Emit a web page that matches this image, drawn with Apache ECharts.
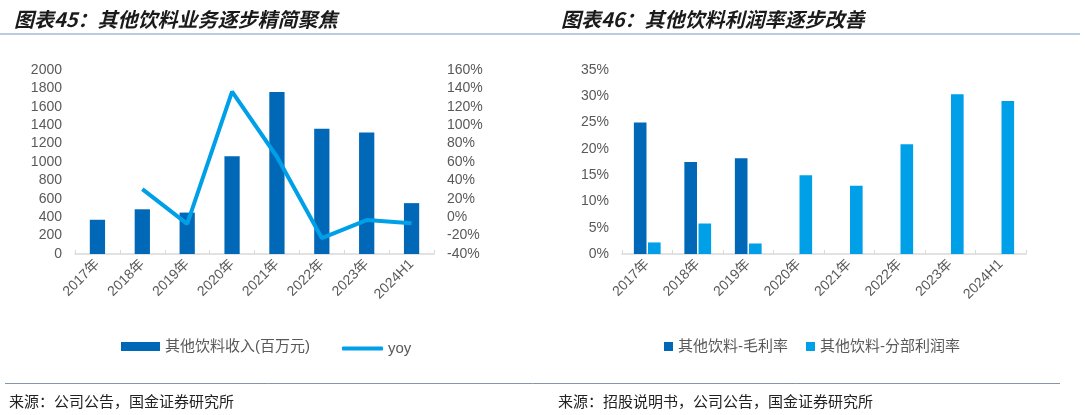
<!DOCTYPE html>
<html>
<head>
<meta charset="utf-8">
<script src="https://cdn.jsdelivr.net/npm/echarts@6/dist/echarts.min.js"></script>
<style>
html,body{margin:0;padding:0;background:#fff;}
#c{width:1085px;height:415px;}
</style>
</head>
<body>
<div id="c"></div>
<script>
var categories = ['2017年','2018年','2019年','2020年','2021年','2022年','2023年','2024H1'];
var revenue = [372, 486, 450, 1062, 1760, 1362, 1320, 553];
var yoy = [null, 30.6, -7.2, 136.5, 65.7, -22.7, -3.1, -6.5];
var grossMargin = [25.0, 17.5, 18.2, null, null, null, null, null];
var segmentMargin = [2.2, 5.8, 2.0, 15.0, 13.0, 20.9, 30.4, 29.1];
var leftTicksL = [0, 2000, 200];
var leftTicksR = [-40, 160, 20];
var rightTicks = [0, 35, 5];

var FONT = '"Liberation Sans", Arial, "Noto Sans CJK SC", sans-serif';
var CJK = '"Noto Sans CJK SC", sans-serif';
var DARK = '#0068b7';
var LIGHT = '#00a0e9';
var LBL = '#595959';

var chart = echarts.init(document.getElementById('c'));

var xAxisCommon = {
  type: 'category',
  data: categories,
  axisLine: {lineStyle: {color: '#d9d9d9', width: 1.5}},
  axisTick: {show: true, inside: true, length: 4, alignWithLabel: false, lineStyle: {color: '#d9d9d9'}},
  axisLabel: {rotate: 45, color: LBL, fontSize: 14, fontFamily: FONT, margin: 8, interval: 0},
  splitLine: {show: false}
};
function yAxisCommon(t, fmt, pos, gi) {
  return {
    type: 'value', gridIndex: gi, position: pos,
    min: t[0], max: t[1], interval: t[2],
    axisLine: {show: false}, axisTick: {show: false},
    splitLine: {show: false},
    axisLabel: {color: LBL, fontSize: 14, fontFamily: FONT, margin: 13, formatter: fmt}
  };
}

var option = {
  backgroundColor: '#fff',
  animation: false,
  title: [
    {text: '图表45：其他饮料业务逐步精简聚焦', left: 9, top: 4,
     textStyle: {fontFamily: CJK, fontSize: 20, fontWeight: 'bold', fontStyle: 'italic', color: '#1a1a1a'}},
    {text: '图表46：其他饮料利润率逐步改善', left: 556, top: 4,
     textStyle: {fontFamily: CJK, fontSize: 20, fontWeight: 'bold', fontStyle: 'italic', color: '#1a1a1a'}}
  ],
  graphic: [
    {type: 'line', shape: {x1: 0, y1: 34, x2: 1080, y2: 34}, style: {stroke: '#b9cde0', lineWidth: 2}},
    {type: 'line', shape: {x1: 5, y1: 383.5, x2: 1060, y2: 383.5}, style: {stroke: '#8496a8', lineWidth: 1}},
    {type: 'text', left: 9, top: 394, style: {text: '来源：公司公告，国金证券研究所', font: '15px ' + CJK, fill: '#222'}},
    {type: 'text', left: 558, top: 394, style: {text: '来源：招股说明书，公司公告，国金证券研究所', font: '15px ' + CJK, fill: '#222'}}
  ],
  legend: [
    {left: 116, top: 334, itemWidth: 39, itemHeight: 9,
     textStyle: {color: LBL, fontSize: 15, fontFamily: FONT},
     data: [{name: '其他饮料收入(百万元)', icon: 'rect'}]},
    {left: 337, top: 336, itemWidth: 41, itemHeight: 4,
     textStyle: {color: LBL, fontSize: 15, fontFamily: FONT},
     data: [{name: 'yoy', icon: 'roundRect'}]},
    {left: 659, top: 334, itemGap: 18, itemWidth: 9, itemHeight: 9,
     textStyle: {color: LBL, fontSize: 15, fontFamily: FONT},
     data: [{name: '其他饮料-毛利率', icon: 'rect'}, {name: '其他饮料-分部利润率', icon: 'rect'}]}
  ],
  grid: [
    {left: 75, top: 70, width: 359, height: 184},
    {left: 622, top: 70, width: 404, height: 184}
  ],
  xAxis: [
    Object.assign({gridIndex: 0}, xAxisCommon),
    Object.assign({gridIndex: 1}, xAxisCommon)
  ],
  yAxis: [
    yAxisCommon(leftTicksL, function (v) { return String(v); }, 'left', 0),
    yAxisCommon(leftTicksR, '{value}%', 'right', 0),
    yAxisCommon(rightTicks, '{value}%', 'left', 1)
  ],
  series: [
    {name: '其他饮料收入(百万元)', type: 'bar', xAxisIndex: 0, yAxisIndex: 0,
     data: revenue, barWidth: '34%', itemStyle: {color: DARK}},
    {name: 'yoy', type: 'line', xAxisIndex: 0, yAxisIndex: 1,
     data: yoy, showSymbol: false, symbol: 'none',
     lineStyle: {color: LIGHT, width: 4}, itemStyle: {color: LIGHT}},
    {name: '其他饮料-毛利率', type: 'bar', xAxisIndex: 1, yAxisIndex: 2,
     data: grossMargin, barWidth: '25%', barGap: '12%', itemStyle: {color: DARK}},
    {name: '其他饮料-分部利润率', type: 'bar', xAxisIndex: 1, yAxisIndex: 2,
     data: segmentMargin, barWidth: '25%', barGap: '12%', itemStyle: {color: LIGHT}}
  ]
};
chart.setOption(option);
</script>
</body>
</html>
